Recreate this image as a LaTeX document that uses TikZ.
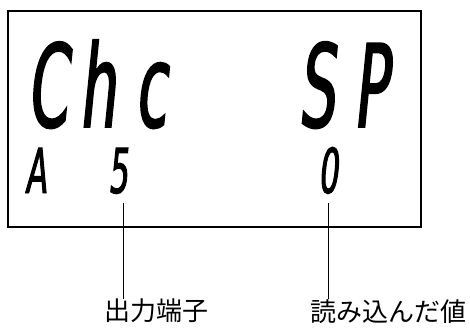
\documentclass[tikz,border=0pt]{standalone}
\usepackage{fontspec}
\usepackage{tikz}
\usetikzlibrary{positioning}
\newfontfamily\segfont[FakeStretch=0.5,FakeSlant=0.1,FakeBold=1.5]{DejaVu Sans}
\newfontfamily\jpfont{Noto Sans CJK JP}
\tikzset{
  lcd/.style={draw, line width=1.3pt, minimum width=413pt, minimum height=216pt, inner sep=0pt},
  segbig/.style={font=\segfont\fontsize{115}{115}\selectfont, inner sep=0pt, anchor=base west,
    text height=84pt, text depth=0pt},
  segsmall/.style={font=\segfont\fontsize{62}{62}\selectfont, inner sep=0pt, anchor=base west,
    text height=45pt, text depth=0pt},
  lbl/.style={font=\jpfont\fontsize{26}{26}\selectfont, inner sep=0pt, anchor=north west},
  lead/.style={line width=0.9pt},
}
\begin{document}
\begin{tikzpicture}[x=1pt, y=-1pt]
  \useasboundingbox (0,0) rectangle (470,329);
  % display
  \node[lcd] (disp) at (214.5,119) {};
  \node[segbig] (cc) at (27,127) {C};
  \node[segbig] (ch) at (79,127) {h};
  \node[segbig] (cl) at (135,127) {c};
  \node[segbig] (cs) at (298,127) {S};
  \node[segbig] (cp) at (353,127) {P};
  \node[segsmall] (da) at (25,193) {A};
  \node[segsmall] (d5) at (108,193) {5};
  \node[segsmall] (d0) at (318,193) {0};
  % labels
  \coordinate (t5) at (123,203);
  \coordinate (t0) at (328,203);
  \node[lbl] (outp) at (104,299) {出力端子};
  \node[lbl] (inval) at (310,299) {読み込んだ値};
  \draw[lead] (t5) -- (t5 |- outp.north);
  \draw[lead] (t0) -- (t0 |- inval.north);
\end{tikzpicture}
\end{document}
